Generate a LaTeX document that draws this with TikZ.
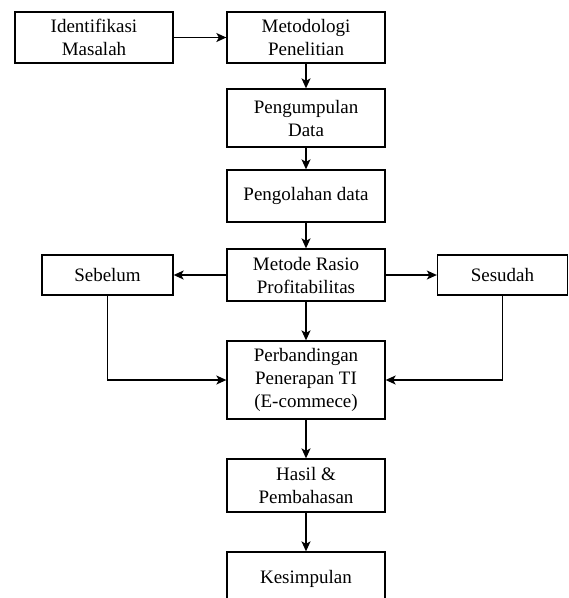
\documentclass[tikz,border=0pt]{standalone}
\usepackage{fontspec}
\setmainfont{Liberation Serif}
\usetikzlibrary{arrows.meta}
\begin{document}
\begin{tikzpicture}[x=1pt,y=-1pt,
  box/.style={draw, line width=1.3pt, minimum width=158pt, align=center, inner sep=0pt,
    font=\fontsize{19}{23}\selectfont},
  conn/.style={line width=1.3pt, -{Stealth[length=10pt,width=9pt,inset=2.5pt]}}]
\useasboundingbox (0,0) rectangle (569,598);
\node[box, minimum height=51pt] (ident) at (94,37.5) {Identifikasi\\Masalah};
\node[box, minimum height=51pt] (metod) at (306,37.5) {Metodologi\\Penelitian};
\node[box, minimum height=58pt] (kumpul) at (306,118) {Pengumpulan\\Data};
\node[box, minimum height=52pt] (olah) at (306,196) {Pengolahan data};
\node[box, minimum height=52pt] (rasio) at (306,275) {Metode Rasio\\Profitabilitas};
\node[box, minimum height=40pt, minimum width=131pt] (sebelum) at (107.5,275) {Sebelum};
\node[box, minimum height=40pt, minimum width=130pt] (sesudah) at (502.5,275) {Sesudah};
\node[box, minimum height=78pt] (banding) at (306,380) {Perbandingan\\Penerapan TI\\(E-commece)};
\node[box, minimum height=53pt] (hasil) at (306,485.5) {Hasil \&\\Pembahasan};
\node[box, minimum height=53pt] (simpul) at (306,578.5) {Kesimpulan};
\draw[conn] (ident) -- (metod);
\draw[conn] (metod) -- (kumpul);
\draw[conn] (kumpul) -- (olah);
\draw[conn] (olah) -- (rasio);
\draw[conn] (rasio) -- (sebelum);
\draw[conn] (rasio) -- (sesudah);
\draw[conn] (rasio) -- (banding);
\draw[conn] (sebelum.south) |- (banding.west);
\draw[conn] (sesudah.south) |- (banding.east);
\draw[conn] (banding) -- (hasil);
\draw[conn] (hasil) -- (simpul);
\end{tikzpicture}
\end{document}
